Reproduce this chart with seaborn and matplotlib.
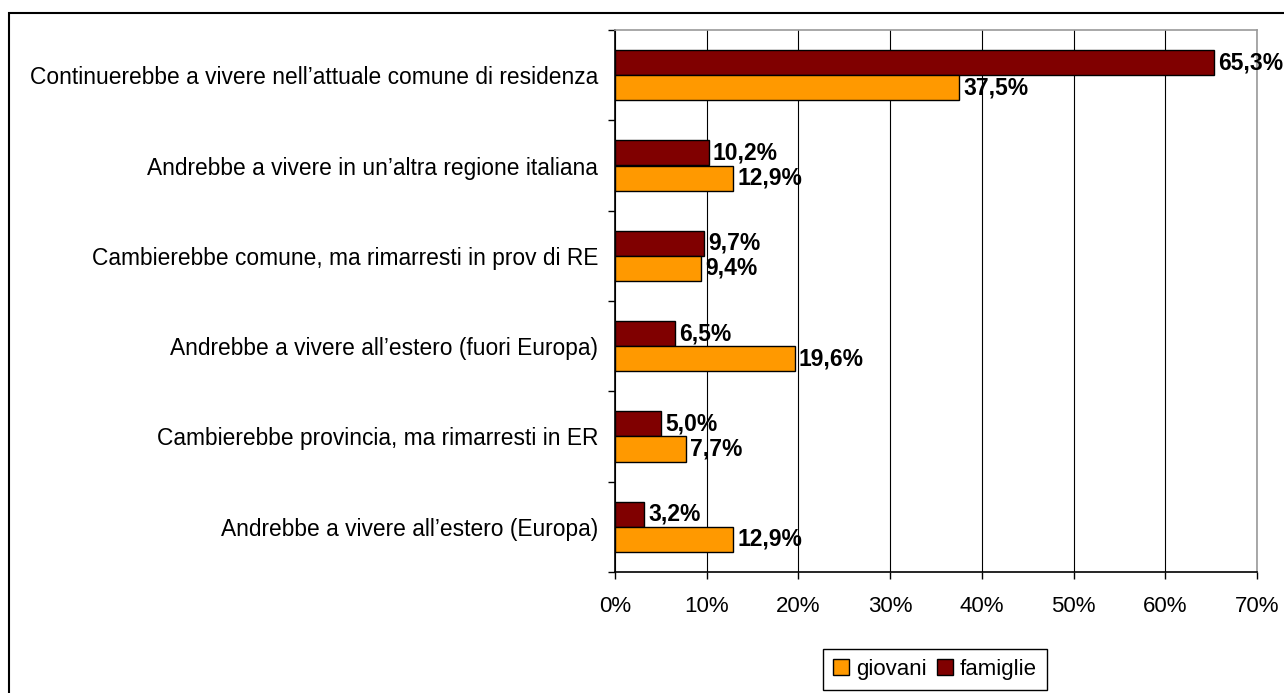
import pandas as pd
import matplotlib
matplotlib.use('Agg')
from matplotlib import pyplot as plt
from matplotlib.patches import Patch, Rectangle
from matplotlib.ticker import MultipleLocator, FixedLocator, FuncFormatter
import seaborn as sns

categories = [
    'Continuerebbe a vivere nell\u2019attuale comune di residenza',
    'Andrebbe a vivere in un\u2019altra regione italiana',
    'Cambierebbe comune, ma rimarresti in prov di RE',
    'Andrebbe a vivere all\u2019estero (fuori Europa)',
    'Cambierebbe provincia, ma rimarresti in ER',
    'Andrebbe a vivere all\u2019estero (Europa)',
]
famiglie = [65.3, 10.2, 9.7, 6.5, 5.0, 3.2]
giovani = [37.5, 12.9, 9.4, 19.6, 7.7, 12.9]
series = ['famiglie', 'giovani']
colors = {'famiglie': '#800000', 'giovani': '#FF9900'}
x_ticks = [0, 10, 20, 30, 40, 50, 60, 70]

df = pd.DataFrame({
    'categoria': categories * 2,
    'valore': famiglie + giovani,
    'serie': ['famiglie'] * len(famiglie) + ['giovani'] * len(giovani),
})

sns.set_style('white')
plt.rcParams['font.family'] = ['Liberation Sans', 'DejaVu Sans']
plt.rcParams['text.color'] = 'black'
plt.rcParams['xtick.color'] = 'black'
plt.rcParams['ytick.color'] = 'black'
plt.rcParams['axes.labelcolor'] = 'black'

fig = plt.figure(figsize=(12.84, 6.93), dpi=100)
ax = fig.add_axes([615 / 1284, 1 - 572 / 693, 642 / 1284, 542 / 693])

sns.barplot(data=df, x='valore', y='categoria', hue='serie', hue_order=series,
            palette=colors, orient='h', width=0.56, saturation=1,
            edgecolor='black', linewidth=1, ax=ax, legend=False)

# etichette dati
for cont, vals in zip(ax.containers, [famiglie, giovani]):
    labs = [f'{v:.1f}%'.replace('.', ',') for v in vals]
    ax.bar_label(cont, labels=labs, padding=3, fontsize=16.5, fontweight='bold', color='black')

ax.set_xlim(0, 70)
ax.xaxis.set_major_locator(FixedLocator(x_ticks))
ax.xaxis.set_major_formatter(FuncFormatter(lambda x, p: f'{x:.0f}%'))
ax.grid(axis='x', color='black', linewidth=0.8)
ax.set_axisbelow(True)
ax.set_xlabel('')
ax.set_ylabel('')

ax.yaxis.set_minor_locator(MultipleLocator(1, offset=0.5))
ax.tick_params(axis='y', which='major', length=0, pad=12, labelsize=16.4)
ax.tick_params(axis='y', which='minor', left=True, length=5, width=1, color='black')
ax.tick_params(axis='x', which='major', bottom=True, length=5, width=1, color='black', pad=12, labelsize=16)

for s in ['left', 'bottom']:
    ax.spines[s].set_color('black')
    ax.spines[s].set_linewidth(1.2)
for s in ['top', 'right']:
    ax.spines[s].set_color('#999999')
    ax.spines[s].set_linewidth(1.2)

# cornice esterna
fig.add_artist(Rectangle((9 / 1284, -0.1), 1.2, 1 - 13 / 693 + 0.1, transform=fig.transFigure,
                         fill=False, edgecolor='black', linewidth=1.5, clip_on=False))

handles = [Patch(facecolor=colors['giovani'], edgecolor='black', label='giovani'),
           Patch(facecolor=colors['famiglie'], edgecolor='black', label='famiglie')]
fig.legend(handles=handles, loc='center', bbox_to_anchor=(935 / 1284, 1 - 669 / 693), ncol=2,
           frameon=True, fancybox=False, edgecolor='black', framealpha=1, fontsize=16,
           handlelength=0.7, handleheight=0.7, handletextpad=0.3, columnspacing=0.5, borderpad=0.45)

fig.savefig('out.png', dpi=100)
